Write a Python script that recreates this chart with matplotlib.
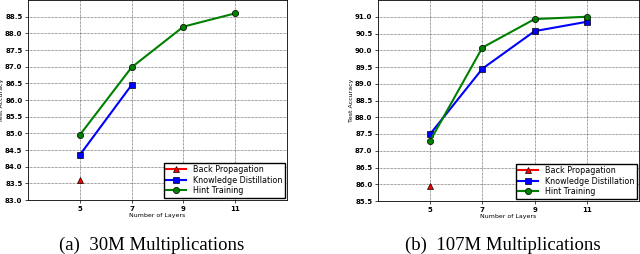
import matplotlib
matplotlib.use("Agg")
import matplotlib.pyplot as plt

# Data
layers = [5, 7, 9, 11]

bp_30m = [83.6]
kd_30m = [84.35, 86.45]
ht_30m = [84.95, 86.98, 88.2, 88.6]

bp_107m = [85.95]
kd_107m = [87.5, 89.45, 90.57, 90.85]
ht_107m = [87.3, 90.08, 90.93, 91.0]

captions = ["(a)  30M Multiplications", "(b)  107M Multiplications"]

fig = plt.figure(figsize=(6.4, 2.54), dpi=100)
ax1 = fig.add_axes([28 / 640, 54 / 254, 259 / 640, 200 / 254])
ax2 = fig.add_axes([378 / 640, 53 / 254, 261 / 640, 201 / 254])


def draw(ax, bp, kd, ht, ylim, yticks):
    ax.plot(layers[:len(bp)], bp, color="red", marker="^", lw=1.5, ms=4.5,
            mec="black", mew=0.5, label="Back Propagation")
    ax.plot(layers[:len(kd)], kd, color="blue", marker="s", lw=1.5, ms=4.5,
            mec="black", mew=0.5, label="Knowledge Distillation")
    ax.plot(layers[:len(ht)], ht, color="green", marker="o", lw=1.5, ms=4.5,
            mec="black", mew=0.5, label="Hint Training")
    ax.set_xlim(3, 13)
    ax.set_ylim(*ylim)
    ax.set_xticks(layers)
    ax.set_yticks(yticks)
    ax.set_yticklabels([f"{v:.1f}" for v in yticks])
    ax.tick_params(labelsize=5, length=2, width=0.5, pad=2)
    for lab in ax.get_xticklabels() + ax.get_yticklabels():
        lab.set_fontweight("bold")
    ax.grid(True, color="#444444", linestyle=(0, (1, 1)), linewidth=0.5)
    ax.set_xlabel("Number of Layers", fontsize=4.5, labelpad=1)
    ax.set_ylabel("Test Accuracy", fontsize=4.5, labelpad=1)
    for s in ax.spines.values():
        s.set_linewidth(0.6)
    ax.legend(loc="lower right", fontsize=5.8, frameon=True, fancybox=False,
              edgecolor="black", borderaxespad=0.3, handlelength=2.5,
              labelspacing=0.2, borderpad=0.3, framealpha=1)


draw(ax1, bp_30m, kd_30m, ht_30m, (83.0, 89.0),
     [83.0 + 0.5 * i for i in range(12)])
draw(ax2, bp_107m, kd_107m, ht_107m, (85.5, 91.5),
     [85.5 + 0.5 * i for i in range(12)])

fig.text(152 / 640, 1 - 245 / 254, captions[0], ha="center", va="center",
         fontsize=13.5, family="Liberation Serif")
fig.text(503 / 640, 1 - 245 / 254, captions[1], ha="center", va="center",
         fontsize=13.5, family="Liberation Serif")

fig.savefig("out.png", dpi=100)
